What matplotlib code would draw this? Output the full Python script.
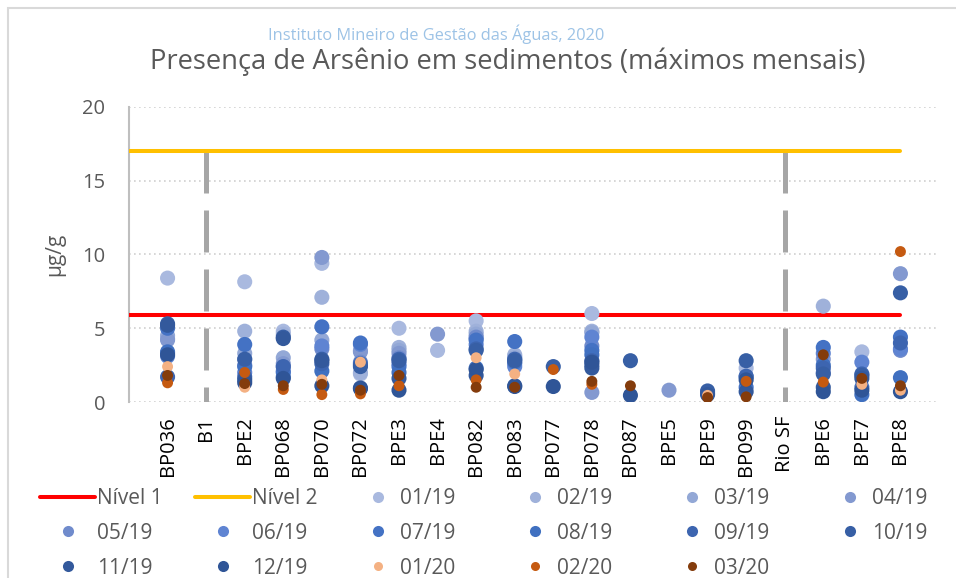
import numpy as np
import matplotlib
matplotlib.use("Agg")
import matplotlib.pyplot as plt
from matplotlib.lines import Line2D
from matplotlib.patches import Rectangle

n = np.nan

stations = ["BP036", "B1", "BPE2", "BP068", "BP070", "BP072", "BPE3", "BPE4",
            "BP082", "BP083", "BP077", "BP078", "BP087", "BPE5", "BPE9", "BP099",
            "Rio SF", "BPE6", "BPE7", "BPE8"]

# monthly maxima of arsenic (ug/g), one list per month, one value per station
m01_19 = [8.4, n, 8.15, 4.8, 9.4, 1.9, 5.0, 3.5, 5.5, 3.1, n, 6.0, n, n, n, 2.3, n, n, 3.4, n]
m02_19 = [4.3, n, 4.8, 4.6, 7.1, 2.0, 3.7, n, 4.8, 3.2, n, 4.8, n, n, n, n, n, 6.5, n, n]
m03_19 = [4.5, n, 3.3, 3.0, 4.2, 3.5, 3.5, n, 4.6, 3.0, n, 4.7, n, n, n, n, n, n, n, n]
m04_19 = [4.2, n, 2.9, 2.6, 9.8, 3.4, 3.3, 4.6, 4.3, 2.9, n, 0.65, n, 0.8, n, n, n, 2.9, n, 8.7]
m05_19 = [3.3, n, 2.5, 2.4, 3.6, 2.7, 3.0, n, 4.4, 2.6, n, 3.8, n, n, n, n, n, 2.0, n, 3.5]
m06_19 = [3.1, n, 2.0, 2.1, 3.8, 3.9, 2.6, n, 3.9, 2.4, n, 4.4, n, n, n, n, n, 3.3, 2.7, 3.6]
m07_19 = [5.0, n, 3.9, 2.0, 5.1, 4.0, 2.4, n, 4.2, 4.1, n, 3.5, n, n, n, 1.0, n, 3.7, 1.0, 4.4]
m08_19 = [3.4, n, 2.4, 1.7, 2.1, 2.6, 2.0, n, 2.3, 2.7, n, 3.2, n, n, n, 1.7, n, 2.5, 0.5, 1.65]
m09_19 = [1.7, n, 1.7, 2.4, 2.6, 2.5, 2.9, n, 3.6, 2.9, n, 2.8, n, n, 0.6, 1.75, n, 2.3, 1.9, 4.0]
m10_19 = [5.3, n, 2.9, 4.4, 2.9, 2.4, 2.8, n, 3.5, 2.8, 2.4, 2.5, 2.8, n, 0.75, 2.8, n, 1.9, 1.8, 7.4]
m11_19 = [5.2, n, 1.5, 4.3, 2.8, 0.9, 1.6, n, 1.8, 1.1, n, 2.3, n, n, 0.5, 0.7, n, 1.0, 1.6, n]
m12_19 = [3.2, n, 1.3, 1.6, 1.1, 0.95, 0.8, n, 2.2, 1.05, 1.05, 2.7, 0.45, n, n, 1.5, n, 0.7, 0.8, 0.7]
m01_20 = [2.4, n, 1.0, n, 1.5, 2.7, n, n, 3.0, 1.9, n, n, n, n, 0.45, n, n, n, 1.2, 0.8]
m02_20 = [1.3, n, 2.0, 0.85, 0.5, 0.55, 1.1, n, 1.5, n, 2.2, 1.2, n, n, n, 1.4, n, 1.35, n, 10.2]
m03_20 = [1.8, n, 1.25, 1.1, 1.2, 0.8, 1.8, n, 1.0, 1.0, n, 1.4, 1.1, n, 0.3, 0.35, n, 3.2, 1.6, 1.1]

months = ["01/19", "02/19", "03/19", "04/19", "05/19", "06/19", "07/19", "08/19",
          "09/19", "10/19", "11/19", "12/19", "01/20", "02/20", "03/20"]
series = [m01_19, m02_19, m03_19, m04_19, m05_19, m06_19, m07_19, m08_19,
          m09_19, m10_19, m11_19, m12_19, m01_20, m02_20, m03_20]
colors = ["#A9B9DF", "#9FB1DA", "#93A8D6", "#8399D0", "#708BCC", "#5F84D2",
          "#4472C4", "#4070C0", "#3D65B0", "#375FA5", "#33599C", "#2F5597",
          "#F4B183", "#C55A11", "#843C0C"]

nivel1 = 5.9
nivel2 = 17
dividers = ["B1", "Rio SF"]

plt.rcParams["font.family"] = ["Open Sans", "DejaVu Sans"]
grey_txt = "#595959"

fig = plt.figure(figsize=(9.56, 5.78), dpi=100)
ax = fig.add_axes([129 / 956, 1 - 402 / 578, 810 / 956, 295 / 578])

x = np.arange(1, len(stations) + 1)

for name in dividers:
    xi = stations.index(name) + 1
    ax.plot([xi, xi], [nivel2, 0], color="#A6A6A6", lw=3.6,
            dashes=(8.4, 3.4), solid_capstyle="butt", zorder=2)

ax.plot([0, len(stations)], [nivel1, nivel1], color="#FF0000", lw=2.9,
        solid_capstyle="round", zorder=3, label="Nível 1")
ax.plot([0, len(stations)], [nivel2, nivel2], color="#FFC000", lw=2.9,
        solid_capstyle="round", zorder=3, label="Nível 2")

for i, (lab, vals, col) in enumerate(zip(months, series, colors)):
    size = 62 if lab.endswith("/20") else 118
    ax.scatter(x, vals, s=size, color=col, edgecolors="none", zorder=4 + i, label=lab)

ax.set_xlim(0, len(stations) + 1)
ax.set_ylim(0, 20)
ax.set_yticks([0, 5, 10, 15, 20])
ax.set_xticks(x)
ax.set_xticklabels(stations, rotation=90, fontsize=14.5, color="#000000")
ax.tick_params(axis="y", labelsize=14.5, labelcolor=grey_txt, length=0, pad=17)
ax.tick_params(axis="x", length=0, pad=10)
ax.grid(axis="y", color="#D0D0D0", ls=(0, (1, 2)), lw=1.2)
ax.set_axisbelow(True)
for s in ["top", "right", "bottom"]:
    ax.spines[s].set_visible(False)
ax.spines["left"].set_color("#BFBFBF")
ax.spines["left"].set_linewidth(1.5)
ax.set_ylabel("µg/g", fontsize=15, color=grey_txt, labelpad=12)

fig.text(508 / 956, 1 - 62 / 578, "Presença de Arsênio em sedimentos (máximos mensais)",
         ha="center", va="center", fontsize=19.7, color=grey_txt)
fig.text(436 / 956, 1 - 34 / 578, "Instituto Mineiro de Gestão das Águas, 2020",
         ha="center", va="center", fontsize=11.8, color="#9DC3E6")

fig.add_artist(Rectangle((8 / 956, -0.1), 1.2, 1 - 8 / 578 + 0.1,
                         transform=fig.transFigure, fill=False,
                         edgecolor="#D9D9D9", lw=1.5))

# legend: built column by column so that columns sit on an even pitch
handles = [Line2D([], [], color="#FF0000", lw=2.9, solid_capstyle="round"),
           Line2D([], [], color="#FFC000", lw=2.9, solid_capstyle="round")]
labels = ["Nível 1", "Nível 2"]
for lab, col in zip(months, colors):
    ms = 6.5 if lab.endswith("/20") else 8
    handles.append(Line2D([], [], ls="", marker="o", ms=ms, color=col, mec="none"))
    labels.append(lab)

col_x = [40, 195, 363, 520, 677, 835]
for j, cx in enumerate(col_x):
    idx = [j + 6 * r for r in range(3) if j + 6 * r < len(labels)]
    wide = j < 2
    leg = fig.legend([handles[k] for k in idx], [labels[k] for k in idx],
                     loc="upper left", bbox_to_anchor=(cx / 956, 1 - 488 / 578),
                     frameon=False, fontsize=15, borderpad=0, borderaxespad=0,
                     handlelength=2.64 if wide else 1.4,
                     handletextpad=0.1 if wide else 0.36,
                     labelspacing=0.66, labelcolor=grey_txt)

fig.savefig("out.png", dpi=100)
